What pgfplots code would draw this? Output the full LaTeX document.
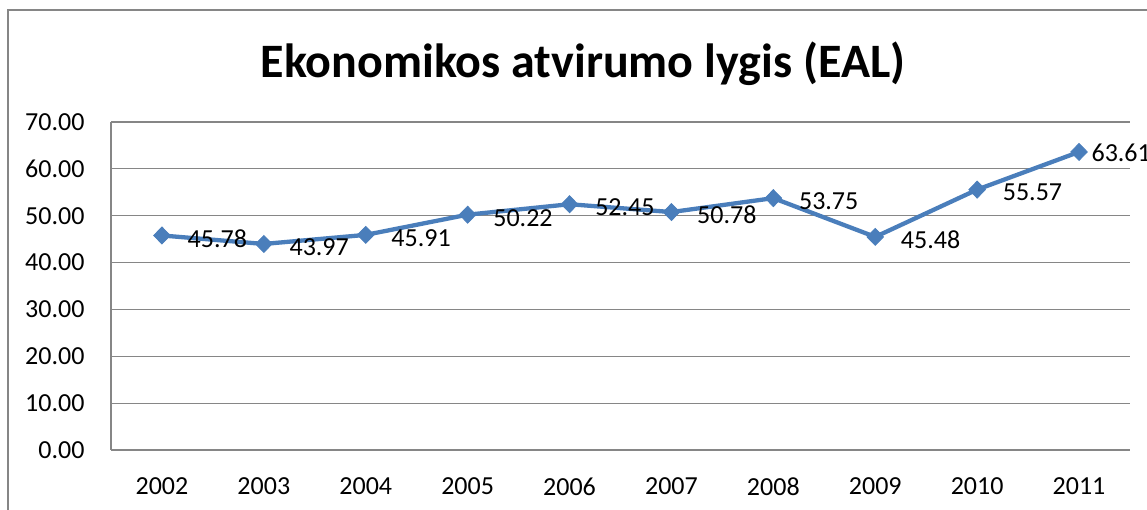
\documentclass[border=0pt]{standalone}
\usepackage{pgfplots}
\pgfplotsset{compat=1.18}
\usepackage{fontspec}
\setmainfont{Carlito}
\definecolor{ser}{HTML}{4A7EBB}
\definecolor{grd}{HTML}{868686}
\begin{document}
\begin{tikzpicture}[x=1pt,y=1pt]
\path[use as bounding box] (0,0) rectangle (1147,510);
\draw[grd, line width=1.2pt] (8,-5) -- (8,500) -- (1160,500);
\node[font=\fontsize{48}{56}\selectfont\bfseries] at (583,446) {Ekonomikos atvirumo lygis (EAL)};
\begin{axis}[
  at={(111pt,60pt)}, anchor=south west,
  scale only axis, width=1019pt, height=328pt,
  xmin=-0.5, xmax=9.5, ymin=0, ymax=70,
  xtick={0,...,9},
  xticklabels={2002,2003,2004,2005,2006,2007,2008,2009,2010,2011},
  ytick={0,10,...,70},
  yticklabels={0.00,10.00,20.00,30.00,40.00,50.00,60.00,70.00},
  major tick length=0pt,
  ymajorgrids, grid style={grd, line width=1.1pt},
  axis x line*=bottom, axis y line*=left,
  axis line style={grd, line width=1.1pt, -},
  tick label style={font=\fontsize{26}{31}\selectfont},
  xticklabel style={yshift=-24pt},
  yticklabel style={xshift=-23pt},
  clip=false,
]
\addplot[ser, line width=4.3pt, mark=diamond*, mark size=8.5pt, mark options={fill=ser, draw=ser, line width=0.8pt, xscale=1.3},
  nodes near coords, point meta=explicit symbolic,
  every node near coord/.style={anchor=west, xshift=22pt, yshift=-3pt, black, font=\fontsize{26}{31}\selectfont}]
coordinates {
(0,45.78) [45.78]
(1,43.97) [43.97]
(2,45.91) [45.91]
(3,50.22) [50.22]
(4,52.45) [52.45]
(5,50.78) [50.78]
(6,53.75) [53.75]
(7,45.48) [45.48]
(8,55.57) [55.57]
(9,63.61) []
};
\addplot[draw=none, mark=none,
  nodes near coords, point meta=explicit symbolic,
  every node near coord/.style={anchor=west, xshift=9pt, yshift=-1pt, black, font=\fontsize{26}{31}\selectfont}]
coordinates {
(9,63.61) [63.61]
};
\end{axis}
\end{tikzpicture}
\end{document}
